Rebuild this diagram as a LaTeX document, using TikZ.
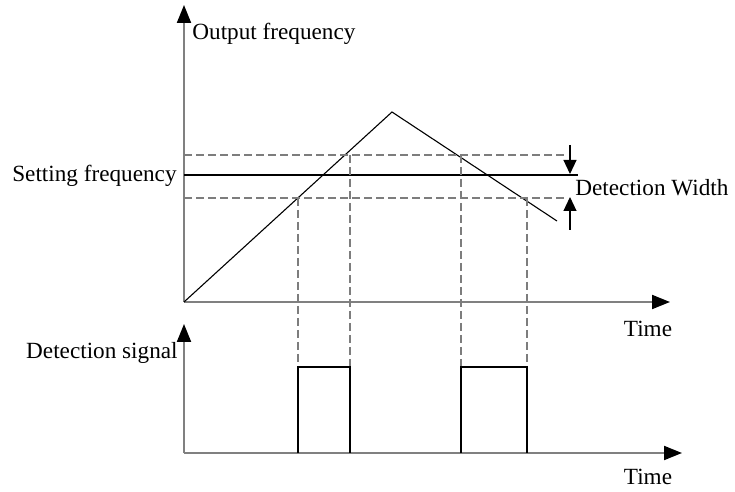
\documentclass[tikz,border=0pt]{standalone}
\usepackage{fontspec}
\setmainfont{Liberation Serif}
\usetikzlibrary{arrows.meta,positioning,calc}
\definecolor{axisgray}{RGB}{128,128,128}
\definecolor{dashgray}{RGB}{125,125,125}

\begin{document}
\begin{tikzpicture}[x=0.5pt,y=-0.5pt,
    axis/.style={draw=axisgray, line width=1pt, -{Triangle[length=9pt,width=7pt,color=black]}},
    curve/.style={draw=black, line width=0.55pt},
    guide/.style={draw=dashgray, line width=0.75pt, dash pattern=on 4pt off 2pt},
    widtharrow/.style={draw=black, line width=0.55pt, -{Triangle[length=7pt,width=6.5pt]}},
    lbl/.style={inner sep=0pt, font=\fontsize{11.6}{14}\selectfont}]
    \useasboundingbox (0,0) rectangle (735,492);

    % axes
    \coordinate (o1) at (184,302);
    \coordinate (y1) at (184,5);
    \coordinate (x1) at (670,302);
    \coordinate (o2) at (184,453);
    \coordinate (y2) at (184,324);
    \coordinate (x2) at (682,453);
    \draw[axis] (o1) -- (y1);
    \draw[axis] (o1) -- (x1);
    \draw[axis] (o2) -- (y2);
    \draw[axis] (o2) -- (x2);

    % frequency ramp
    \coordinate (peak) at (392,112);
    \coordinate (rampend) at (557,221);
    \draw[curve] (o1) -- (peak) -- (rampend);

    % setting frequency and detection band
    \coordinate (hiL) at (184,155);  \coordinate (hiR) at (566,155);
    \coordinate (setL) at (184,175); \coordinate (setR) at (578,175);
    \coordinate (loL) at (184,198);  \coordinate (loR) at (566,198);
    \draw[guide] (hiL) -- (hiR);
    \draw[curve] (setL) -- (setR);
    \draw[guide] (loL) -- (loR);

    % crossings projected down
    \foreach \name/\x/\y in {a1/298/198, a2/350/155, b1/461/155, b2/527/198} {
        \coordinate (\name top) at (\x,\y);
        \coordinate (\name bot) at (\x,453);
        \draw[guide] (\name top) -- (\name bot);
    }

    % detection pulses
    \draw[curve] (a1bot) -- (298,367) -- (350,367) -- (a2bot);
    \draw[curve] (b1bot) -- (461,367) -- (527,367) -- (b2bot);

    % detection width marks
    \coordinate (wtop) at (570,145);
    \coordinate (wbot) at (570,230);
    \draw[widtharrow] (wtop) -- (570,174);
    \draw[widtharrow] (wbot) -- (570,197);

    % labels
    \node[lbl, anchor=west] (outlbl) at (192,34) {Output frequency};
    \node[lbl, anchor=east] (setlbl) at (177,176) {Setting frequency};
    \node[lbl, anchor=west] (widthlbl) at (575,188) {Detection Width};
    \node[lbl] (time1) at (648,329) {Time};
    \node[lbl, anchor=east] (siglbl) at (178,353) {Detection signal};
    \node[lbl] (time2) at (648,477) {Time};
\end{tikzpicture}
\end{document}
